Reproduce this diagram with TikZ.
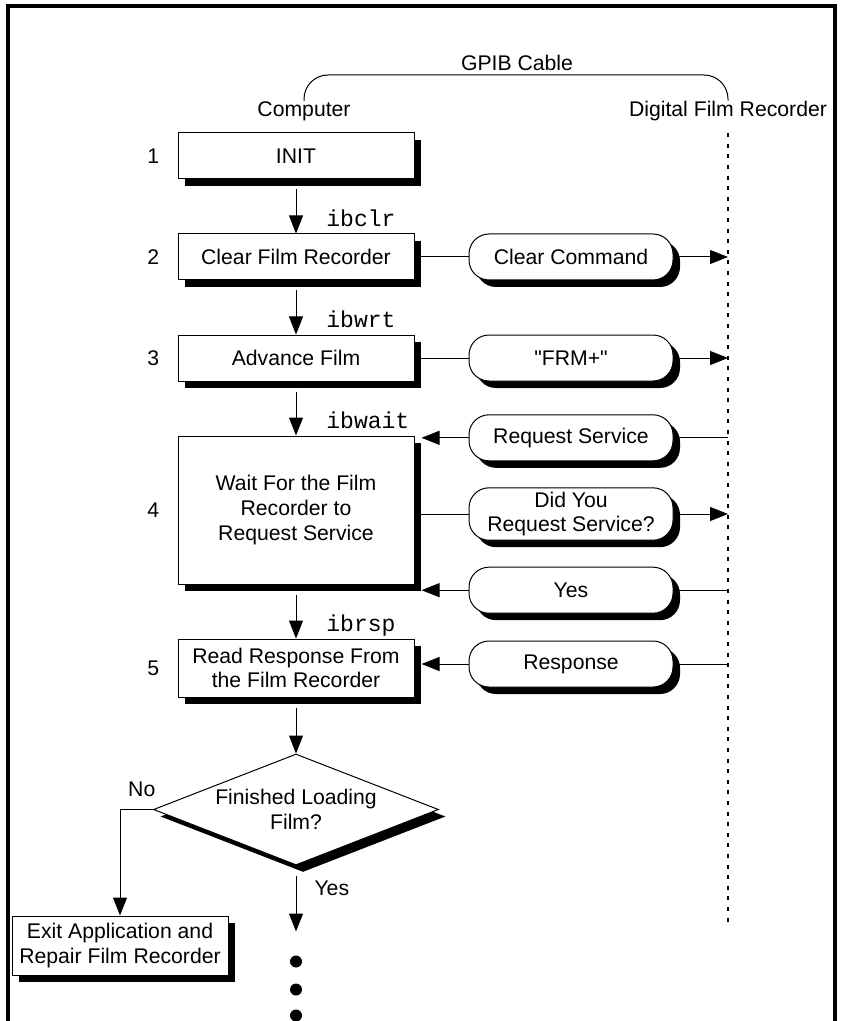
\documentclass[tikz,border=0pt]{standalone}
\usepackage{fontspec}
\setmainfont{Liberation Sans}
\setmonofont{Liberation Mono}
\usetikzlibrary{arrows.meta,calc,positioning,shadows,shapes.geometric}

\tikzset{
  boxshadow/.style={drop shadow={fill=black,opacity=1,shadow xshift=3.5pt,shadow yshift=-3.5pt}},
  stepbox/.style={draw,fill=white,line width=0.5pt,minimum width=118pt,minimum height=23pt,inner sep=2pt,align=center,boxshadow},
  msg/.style={draw,fill=white,line width=0.5pt,rounded corners=10pt,minimum width=102pt,minimum height=23pt,inner sep=2pt,align=center,boxshadow},
  ask/.style={diamond,draw,fill=white,line width=0.5pt,aspect=2.6,inner sep=0pt,minimum width=142.5pt,minimum height=55.5pt,align=center,boxshadow},
  num/.style={inner sep=0pt},
  call/.style={font=\fontsize{11.5}{12}\ttfamily,inner sep=0pt,anchor=base west},
  flow/.style={->,line width=0.5pt},
  wire/.style={line width=0.5pt},
  dashline/.style={line width=1.35pt,dash pattern=on 2pt off 3.3pt},
  frameline/.style={line width=1.6pt},
  bullet/.style={circle,fill=black,minimum size=6pt,inner sep=0pt},
}

\begin{document}
\begin{tikzpicture}[x=0.5pt,y=-0.5pt,>={Triangle[length=9pt,width=7pt]},node distance=27pt,font=\fontsize{10.6}{12.3}\selectfont]
  \useasboundingbox (0,0) rectangle (840,1021);
  \draw[frameline] (8,1021) |- (835,6) -- (835,1021);

  % header
  \node (gpib) at (517,63) {GPIB Cable};
  \node[inner sep=0pt] (comp) at (304,111) {Computer};
  \node[inner sep=0pt] (dfr) at (728,111) {Digital Film Recorder};
  \coordinate (cable) at (517,75);
  \draw[wire,rounded corners=12pt] (comp.north) |- (cable) -| (dfr.north);
  \coordinate[below=403pt of dfr.south] (dfrend);
  \draw[dashline,shorten <=6pt] (dfr.south) -- (dfrend);

  % computer side
  \node[stepbox] (init) at (296,156) {INIT};
  \node[stepbox,below=of init] (clear) {Clear Film Recorder};
  \node[stepbox,below=of clear] (adv) {Advance Film};
  \node[stepbox,below=of adv,minimum height=74pt] (wait) {Wait For the Film\\Recorder to\\Request Service};
  \node[stepbox,below=of wait,minimum height=29pt] (read) {Read Response From\\the Film Recorder};
  \node[ask,below=28pt of read] (fin) {Finished Loading\\Film?};
  \node[stepbox,minimum width=108pt,minimum height=29.5pt,inner sep=1pt,below=53pt of fin.west,xshift=-16.5pt] (exit) {Exit Application and\\Repair Film Recorder};

  \foreach \b/\n in {init/1,clear/2,adv/3,wait/4,read/5}
    \node[num,left=9pt of \b] (num\n) {\n};

  \draw[flow,shorten <=5pt] (init) -- (clear);
  \draw[flow,shorten <=5pt] (clear) -- (adv);
  \draw[flow,shorten <=5pt] (adv) -- (wait);
  \draw[flow,shorten <=5pt] (wait) -- (read);
  \draw[flow,shorten <=5pt] (read) -- (fin);
  \node[call] (c1) at ($(clear.north)+(15pt,3.5pt)$) {ibclr};
  \node[call] (c2) at ($(adv.north)+(15pt,3.5pt)$) {ibwrt};
  \node[call] (c3) at ($(wait.north)+(15pt,3.5pt)$) {ibwait};
  \node[call] (c4) at ($(read.north)+(15pt,3.5pt)$) {ibrsp};

  % messages on the cable
  \node[msg,right=27pt of clear] (cmd) {Clear Command};
  \node[msg,right=27pt of adv] (frm) {\textquotedbl FRM+\textquotedbl};
  \node[msg,right=27pt of wait,yshift=-2pt] (didyou) {Did You\\Request Service?};
  \node[msg,above=13pt of didyou] (rqs) {Request Service};
  \node[msg,below=13pt of didyou] (yes) {Yes};
  \node[msg,right=27pt of read,yshift=2pt] (rsp) {Response};

  \draw[wire] (clear) -- (cmd);
  \draw[flow] (cmd) -- (cmd -| dfrend);
  \draw[wire] (adv) -- (frm);
  \draw[flow] (frm) -- (frm -| dfrend);
  \draw[wire] (rqs -| dfrend) -- (rqs);
  \draw[flow] (rqs) -- ($(rqs -| wait.east)+(3.5pt,0)$);
  \draw[wire] (wait.east |- didyou) -- (didyou);
  \draw[flow] (didyou) -- (didyou -| dfrend);
  \draw[wire] (yes -| dfrend) -- (yes);
  \draw[flow] (yes) -- ($(yes -| wait.east)+(3.5pt,0)$);
  \draw[wire] (rsp -| dfrend) -- (rsp);
  \draw[flow] (rsp) -- ($(rsp -| read.east)+(3.5pt,0)$);

  % decision
  \draw[flow] (fin.west) -| node[pos=0.17,above=6pt,inner sep=0pt] (no) {No} (exit.north);
  \coordinate[below=33pt of fin.south] (more);
  \draw[flow,shorten <=5pt] (fin.south) -- node[pos=0.35,right=9pt,inner sep=0pt] (yeslbl) {Yes} (more);
  \foreach \i/\dy in {1/15pt,2/29pt,3/42pt}
    \node[bullet] (dot\i) at ([yshift=-\dy]more) {};
\end{tikzpicture}
\end{document}
